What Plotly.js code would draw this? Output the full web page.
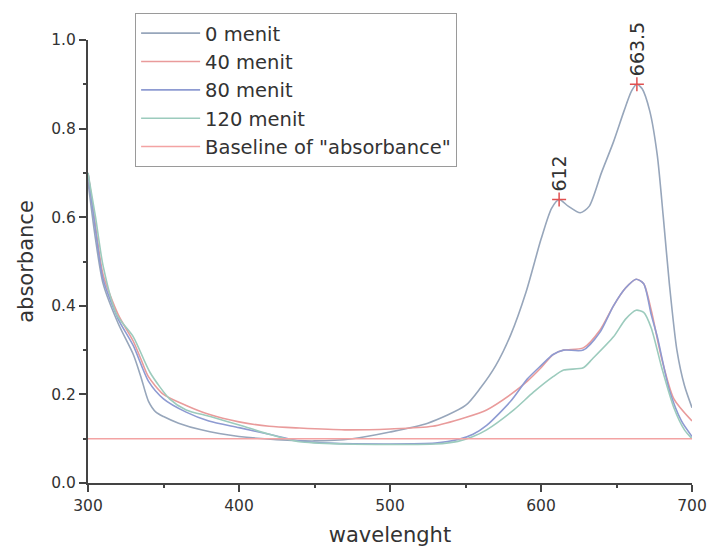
<!DOCTYPE html>
<html>
<head>
<meta charset="utf-8">
<script src="https://cdn.plot.ly/plotly-3.0.1.min.js"></script>
<style>html,body{margin:0;padding:0;background:#fff;}#chart{width:709px;height:549px;}</style>
</head>
<body>
<div id="chart"></div>
<script>
// ---- data ----
const wl0   = [300,305,310,320,330,335,340,345,350,360,375,400,425,450,475,500,525,550,560,570,580,590,600,607,612,618,626,632,640,648,655,660,663.5,667,672,677,681,685,690,695,700];
const abs0  = [0.68,0.55,0.45,0.36,0.29,0.24,0.185,0.16,0.15,0.135,0.12,0.105,0.098,0.095,0.1,0.115,0.135,0.175,0.215,0.265,0.335,0.43,0.55,0.62,0.64,0.625,0.61,0.625,0.70,0.77,0.84,0.885,0.90,0.89,0.84,0.74,0.60,0.45,0.30,0.22,0.17];

const wl40  = [300,305,310,320,330,335,340,350,365,380,400,420,440,470,500,528,550,564,580,591,600,608,615,628,639,648,656,663,668,673,680,688,700];
const abs40 = [0.70,0.58,0.47,0.38,0.32,0.28,0.24,0.20,0.175,0.155,0.138,0.128,0.124,0.12,0.122,0.128,0.148,0.165,0.20,0.23,0.26,0.29,0.30,0.305,0.345,0.40,0.44,0.46,0.45,0.39,0.28,0.19,0.14];

const wl80  = [300,305,310,320,330,340,350,365,380,400,420,440,460,500,530,545,555,564,580,591,600,608,615,628,639,648,656,663,668,673,677,685,693,700];
const abs80 = [0.70,0.57,0.46,0.37,0.31,0.23,0.19,0.16,0.14,0.125,0.11,0.095,0.09,0.088,0.09,0.098,0.11,0.13,0.185,0.235,0.265,0.29,0.30,0.30,0.34,0.40,0.44,0.46,0.45,0.38,0.33,0.21,0.14,0.105];

const wl120  = [300,305,310,319,330,341,354,365,381,403,420,440,470,500,530,545,555,564,582,595,608,615,628,634,648,656,663,668,673,680,688,695,700];
const abs120 = [0.70,0.60,0.49,0.38,0.33,0.25,0.19,0.165,0.15,0.128,0.11,0.093,0.088,0.087,0.088,0.094,0.105,0.12,0.165,0.205,0.24,0.255,0.26,0.28,0.33,0.37,0.39,0.385,0.35,0.26,0.17,0.12,0.10];

const baseWl  = [300,700];
const baseAbs = [0.1,0.1];

const peakWl     = [612,663.5];
const peakAbs    = [0.64,0.90];
const peakLabels = ['612','663.5'];

const seriesNames = ['0 menit','40 menit','80 menit','120 menit','Baseline of "absorbance"'];
const xTicks = [300,400,500,600,700];
const yTicks = [0.0,0.2,0.4,0.6,0.8,1.0];

// ---- chart ----
const FONT = 'DejaVu Sans, Liberation Sans, Arial, sans-serif';
function line(x,y,name,color){
  return {x:x,y:y,name:name,type:'scatter',mode:'lines',
          line:{color:color,width:1.6,shape:'spline',smoothing:0.7}};
}
const traces = [
  line(wl0,abs0,seriesNames[0],'#97a6bb'),
  line(wl40,abs40,seriesNames[1],'#e99b9b'),
  line(wl80,abs80,seriesNames[2],'#8e9bd2'),
  line(wl120,abs120,seriesNames[3],'#9ccbbd'),
  {x:baseWl,y:baseAbs,name:seriesNames[4],type:'scatter',mode:'lines',line:{color:'#f3a3a3',width:1.4}},
  {x:peakWl,y:peakAbs,type:'scatter',mode:'markers',showlegend:false,hoverinfo:'skip',
   marker:{symbol:'cross-thin',size:10,line:{color:'#e05050',width:1.5}}}
];

const annotations = peakWl.map((w,i)=>({
  x:w,y:peakAbs[i],xref:'x',yref:'y',text:peakLabels[i],showarrow:false,
  textangle:-90,xanchor:'center',yanchor:'bottom',yshift:6,
  font:{family:FONT,size:19,color:'#333'}
}));

const layout = {
  width:709,height:549,
  margin:{l:88,r:17,t:40,b:66},
  paper_bgcolor:'#fff',plot_bgcolor:'#fff',
  font:{family:FONT,color:'#333'},
  showlegend:true,
  legend:{x:0.078,y:1.061,xanchor:'left',yanchor:'top',
          bgcolor:'#fff',bordercolor:'#9a9a9a',borderwidth:1,
          font:{family:FONT,size:19.5,color:'#333'},itemwidth:59,tracegroupgap:0},
  xaxis:{range:[300,700],tickvals:xTicks,ticktext:xTicks.map(String),
         showgrid:false,zeroline:false,showline:true,linecolor:'#444',linewidth:2,
         ticks:'outside',ticklen:7,tickwidth:2,tickcolor:'#444',
         minor:{ticks:'outside',ticklen:3,tickwidth:2,tickcolor:'#444',dtick:50,showgrid:false},
         tickfont:{family:FONT,size:15.5,color:'#333'},
         title:{text:'wavelenght',font:{family:FONT,size:21,color:'#333'},standoff:14}},
  yaxis:{range:[0,1.0],tickvals:yTicks,ticktext:yTicks.map(v=>v.toFixed(1)),
         showgrid:false,zeroline:false,showline:true,linecolor:'#444',linewidth:2,
         ticks:'outside',ticklen:7,tickwidth:2,tickcolor:'#444',
         minor:{ticks:'outside',ticklen:3,tickwidth:2,tickcolor:'#444',dtick:0.1,showgrid:false},
         tickfont:{family:FONT,size:15.5,color:'#333'},
         title:{text:'absorbance',font:{family:FONT,size:21,color:'#333'},standoff:12}},
  annotations:annotations
};

Plotly.newPlot('chart',traces,layout,{displayModeBar:false,staticPlot:true});
</script>
</body>
</html>
